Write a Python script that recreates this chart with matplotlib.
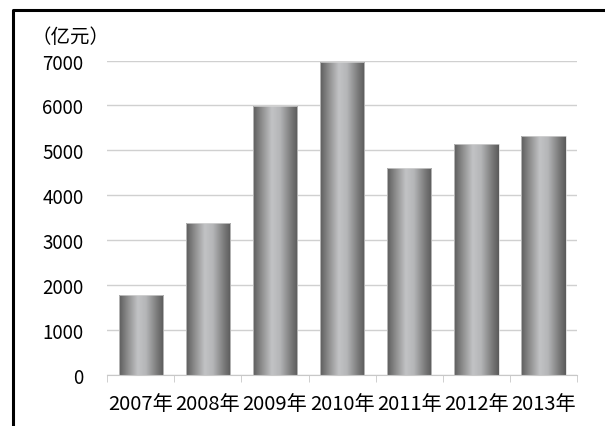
import numpy as np
import matplotlib.pyplot as plt
from matplotlib.colors import LinearSegmentedColormap
from matplotlib.lines import Line2D

years = ['2007年', '2008年', '2009年', '2010年', '2011年', '2012年', '2013年']
values = [1780, 3370, 5990, 6980, 4600, 5140, 5320]
yticks = [0, 1000, 2000, 3000, 4000, 5000, 6000, 7000]
unit_label = '（亿元）'

plt.rcParams['font.family'] = ['Noto Sans CJK SC', 'DejaVu Sans']

fig = plt.figure(figsize=(6.05, 4.27), dpi=100)
ax = fig.add_axes([0.177, 0.1206, 0.777, 0.735])

x = np.arange(len(years))
bars = ax.bar(x, values, width=0.66, color='none', edgecolor='#d8d8d8',
              linewidth=0.5, zorder=3)

# cylinder-like gray gradient on each bar
cmap = LinearSegmentedColormap.from_list('cyl', [
    (0.0, '#5c5c5c'), (0.18, '#8a8a8a'), (0.42, '#c2c3c5'),
    (0.6, '#b5b6b8'), (0.85, '#7a7a7a'), (1.0, '#5a5a5a')])
grad = np.linspace(0, 1, 256).reshape(1, -1)
for b in bars:
    x0, y0 = b.get_x(), b.get_y()
    w, h = b.get_width(), b.get_height()
    ax.imshow(grad, cmap=cmap, aspect='auto', extent=(x0, x0 + w, y0, y0 + h),
              zorder=2, interpolation='bicubic')

ax.set_xlim(-0.5, len(years) - 0.5)
ax.set_ylim(0, 7000)

ax.set_yticks(yticks)
ax.yaxis.grid(True, color='#d0d0d0', lw=1.0)
ax.set_axisbelow(True)
for s in ['top', 'right', 'left']:
    ax.spines[s].set_visible(False)
ax.spines['bottom'].set_color('#c8c8c8')

ax.tick_params(axis='y', length=0, pad=17, labelsize=13.5)
ax.set_xticks(x, years)
ax.tick_params(axis='x', which='major', length=0, pad=13, labelsize=14.5)
ax.set_xticks(np.arange(-0.5, len(years), 1), minor=True)
ax.tick_params(axis='x', which='minor', length=5, color='#c8c8c8')

fig.text(0.052, 0.912, unit_label, fontsize=14, va='center', ha='left')

# partial black frame (top and left)
fig.add_artist(Line2D([13 / 605, 13 / 605, 1], [0, 1 - 10.5 / 427, 1 - 10.5 / 427],
                      transform=fig.transFigure, color='black', lw=2.2))

fig.savefig('out.png', dpi=100)
